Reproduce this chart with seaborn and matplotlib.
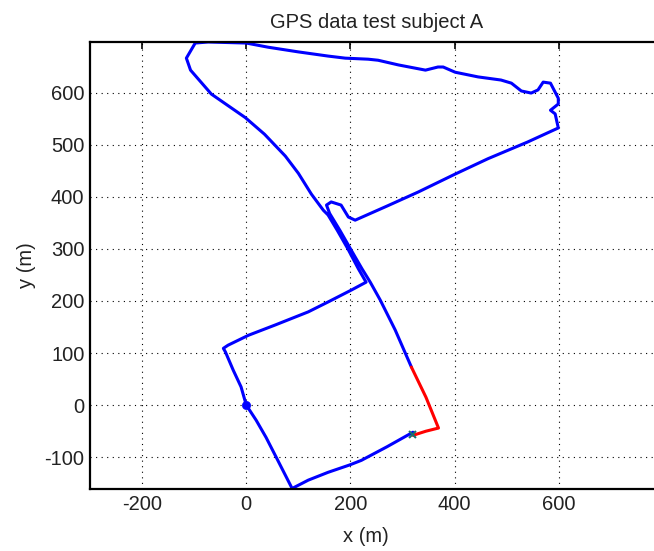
import numpy as np
import pandas as pd
import matplotlib
matplotlib.use("Agg")
import matplotlib.pyplot as plt
import seaborn as sns

# ---- data (metres) ----
track1_x = [0, -10, -25, -40, -44, -35, 4, 56, 119, 157, 202, 230,
            215, 195, 175, 157, 148, 125, 100, 75, 35, -2, -67, -107, -115, -98, -73,
            0, 42, 100, 157, 190, 234, 253, 292, 344, 368, 378, 401, 445, 489, 509,
            528, 547, 560, 570, 584, 599, 599, 584, 593, 599,
            540, 464, 400, 330, 270, 209, 196, 182, 163, 154,
            160, 180, 200, 222, 238, 257, 286, 317]
track1_y = [0, 35, 67, 102, 109, 115, 134, 154, 179, 198, 221, 236,
            262, 300, 335, 365, 374, 405, 445, 478, 520, 552, 597, 643, 666, 695, 697,
            695, 687, 678, 670, 666, 664, 662, 653, 643, 649, 649, 639, 630, 624, 618,
            603, 599, 605, 620, 618, 589, 578, 566, 559, 532,
            505, 473, 443, 409, 382, 355, 361, 384, 390, 384,
            368, 335, 300, 262, 236, 202, 144, 73]
red_x = [317, 345, 369, 345, 320]
red_y = [73, 15, -44, -50, -58]
track2_x = [320, 270, 221, 198, 157, 119, 88, 60, 38, 19, 0]
track2_y = [-52, -80, -106, -115, -129, -144, -160, -105, -62, -29, 0]
start_x = [0]
start_y = [0]
marker_x = [318]
marker_y = [-55]

xticks = [-200, 0, 200, 400, 600]
yticks = [-100, 0, 100, 200, 300, 400, 500, 600]

sns.set_style("white")
plt.rcParams['font.family'] = ['Liberation Sans', 'DejaVu Sans']

fig = plt.figure(figsize=(6.54, 5.51), dpi=100)
fig.patch.set_facecolor("white")
W, H = 654, 551
ax = fig.add_axes([90 / W, (H - 489) / H, 573 / W, 447 / H])

blue = "#0000ff"
red = "#ff0000"
lw = 2.2
sns.lineplot(x=track1_x, y=track1_y, sort=False, estimator=None, color=blue, lw=lw, ax=ax)
sns.lineplot(x=track2_x, y=track2_y, sort=False, estimator=None, color=blue, lw=lw, ax=ax)
sns.lineplot(x=red_x, y=red_y, sort=False, estimator=None, color=red, lw=lw, ax=ax)
sns.scatterplot(x=start_x, y=start_y, color=blue, s=35, marker="o", edgecolor=blue, ax=ax, zorder=5)
sns.scatterplot(x=marker_x, y=marker_y, color="#1a6e6e", s=25, marker="x", linewidth=1.5, ax=ax, zorder=5)

ax.set_xlim(-300, 800)
ax.set_ylim(-161, 697)
ax.set_xticks(xticks)
ax.set_yticks(yticks)
ax.set_xticklabels([str(v) for v in xticks])
ax.set_yticklabels([str(v) for v in yticks])
# off-canvas gridline at 800 (right side is cropped in the reference)
ax.axvline(800, color="black", linestyle=(0, (1, 4)), linewidth=0.8)

ax.grid(True, color="black", linestyle=(0, (1, 4)), linewidth=0.8)
ax.set_axisbelow(True)
for s in ax.spines.values():
    s.set_visible(True)
    s.set_color("black")
    s.set_linewidth(1.6)
ax.tick_params(direction="in", length=5, width=1.2, top=True, right=True,
               labelsize=14.5, colors="black", pad=4)
for lab in ax.get_xticklabels() + ax.get_yticklabels():
    lab.set_color("#222222")

ax.set_title("GPS data test subject A", fontsize=14.5, pad=10, color="#222222")
ax.set_xlabel("x (m)", fontsize=14.5, labelpad=3, color="#222222")
ax.set_ylabel("y (m)", fontsize=14.5, labelpad=6, color="#222222")
ax.xaxis.set_label_coords((366 - 90) / 573, -0.085)

fig.savefig("out.png", dpi=100, facecolor="white")
